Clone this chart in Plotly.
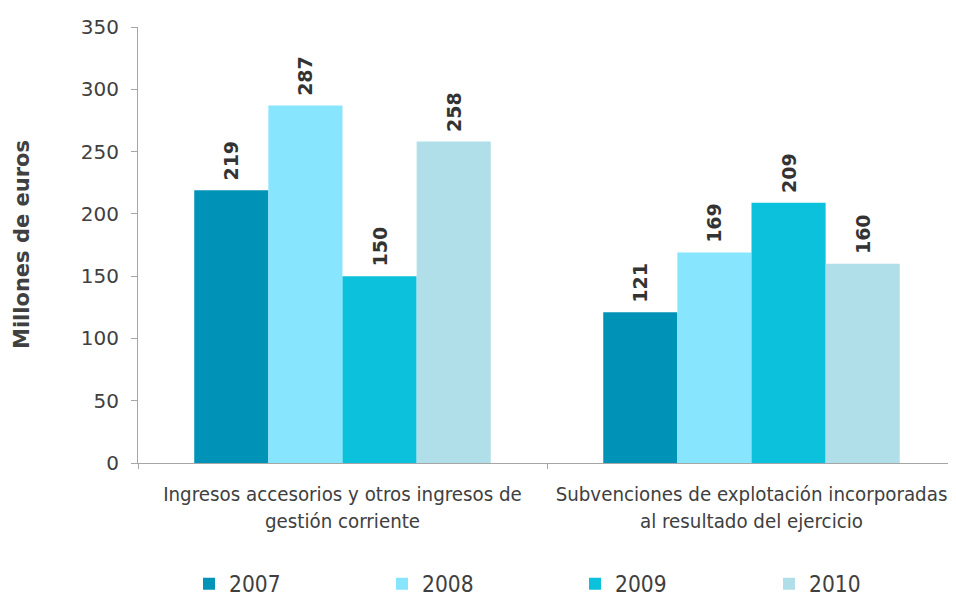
import plotly.graph_objects as go

categories = ["Ingresos accesorios y otros ingresos de<br>gestión corriente",
              "Subvenciones de explotación incorporadas<br>al resultado del ejercicio"]
years = ["2007", "2008", "2009", "2010"]
values = {
    "2007": [219, 121],
    "2008": [287, 169],
    "2009": [150, 209],
    "2010": [258, 160],
}
colors = {"2007": "#0093B8", "2008": "#87E5FD", "2009": "#0BC1DC", "2010": "#B0DFEA"}
y_ticks = [0, 50, 100, 150, 200, 250, 300, 350]

OFF = 8  # page body margin
W, H = 956 - OFF, 596 - OFF
L, T = 138 - OFF, 27 - OFF
Y0 = 463 - OFF
B = H - Y0
PW, PH = W - L, Y0 - T

legend_marker_x = [203, 396, 589, 783]
legend_y_page = 584

fig = go.Figure()
layout_legends = {}
for i, yr in enumerate(years):
    lname = "legend" if i == 0 else f"legend{i+1}"
    fig.add_trace(go.Bar(
        x=categories, y=values[yr], name=yr, legend=lname,
        marker=dict(color=colors[yr], line=dict(width=0)),
        text=["\u00a0" + str(v) for v in values[yr]],
        textposition="outside", textangle=-90,
        textfont=dict(family="DejaVu Sans", size=19, color="#333333", weight="bold"),
        cliponaxis=False,
    ))
    layout_legends[lname] = dict(
        orientation="h",
        x=(legend_marker_x[i] - OFF - 14 - L) / PW, xanchor="left",
        y=-(legend_y_page - OFF - Y0) / PH, yanchor="middle",
        font=dict(family="DejaVu Sans Condensed", size=22.5, color="#404040"),
        itemwidth=30, bgcolor="rgba(0,0,0,0)",
    )

fig.update_layout(
    width=W, height=H,
    margin=dict(l=L, r=0, t=T, b=B, autoexpand=False),
    paper_bgcolor="white", plot_bgcolor="white",
    barmode="group", bargap=0.275, bargroupgap=0,
    font=dict(family="DejaVu Sans", color="#404040"),
    uniformtext=dict(minsize=19, mode="show"),
    showlegend=True,
    annotations=[dict(
        text="<b>Millones de euros</b>", textangle=-90,
        xref="paper", yref="paper", x=-(L - (22 - OFF)) / PW, y=0.5,
        xanchor="center", yanchor="middle", showarrow=False,
        font=dict(family="DejaVu Sans", size=21, color="#404040"),
    )],
    **layout_legends,
)
fig.update_xaxes(
    showline=True, linecolor="#A6A6A6", linewidth=1,
    tickson="boundaries", ticks="outside", ticklen=5, tickcolor="#A6A6A6",
    tickfont=dict(family="DejaVu Sans Condensed", size=20.3, color="#404040"),
    tickangle=0, ticklabelstandoff=13,
    showgrid=False, automargin=False,
)
fig.update_yaxes(
    range=[0, 350], tickvals=y_ticks,
    showline=True, linecolor="#A6A6A6", linewidth=1,
    ticks="outside", ticklen=6, tickcolor="#A6A6A6",
    tickfont=dict(family="DejaVu Sans", size=20, color="#404040"),
    ticklabelstandoff=8,
    showgrid=False, zeroline=False, automargin=False,
)
fig.write_html("out.html")
